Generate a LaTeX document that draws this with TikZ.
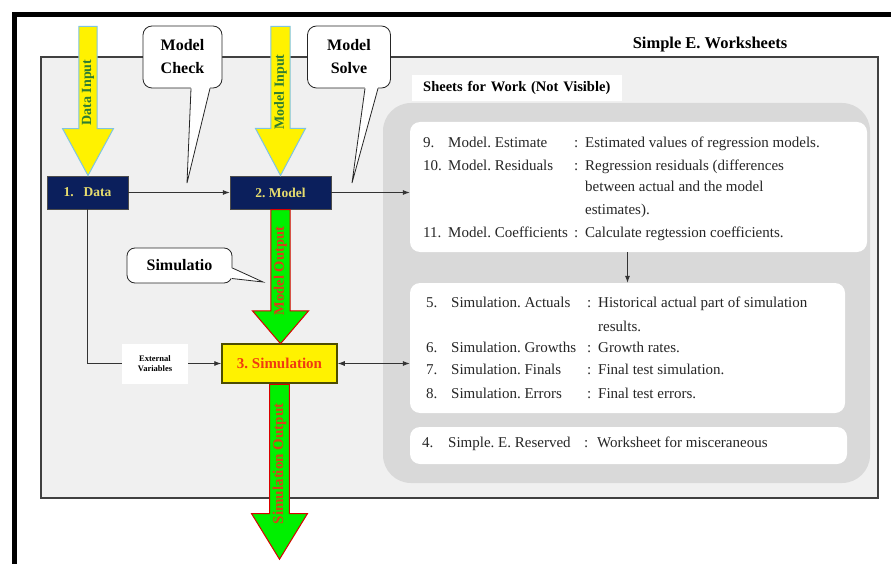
\documentclass[tikz,border=0pt]{standalone}
\usepackage{fontspec}
\setmainfont{Liberation Serif}
\usetikzlibrary{arrows.meta,shapes.arrows,calc}

\definecolor{navybox}{HTML}{0B1F5C}
\definecolor{stagetext}{HTML}{E6DC6E}
\definecolor{panelgray}{HTML}{F0F0F0}
\definecolor{sheetgray}{HTML}{D9D9D9}
\definecolor{arrowblue}{HTML}{7FC4E0}
\definecolor{inputgreen}{HTML}{2E7D32}
\definecolor{outgreen}{HTML}{00F000}
\definecolor{outred}{HTML}{D8401A}
\definecolor{simred}{HTML}{F03A10}
\definecolor{olivebox}{HTML}{4D4D00}

\tikzset{>={Latex[length=7pt,width=5pt]}}
\frenchspacing

\begin{document}
\begin{tikzpicture}[x=1pt,y=-1pt,
  stage/.style={draw=black!70,fill=navybox,text=stagetext,inner sep=0pt,minimum height=33pt,font=\bfseries\fontsize{13.5}{16}\selectfont},
  fatarrow/.style={single arrow,rotate=90,shape border rotate=180,anchor=tail,line width=1pt,inner sep=1pt,font=\bfseries\fontsize{14}{16}\selectfont},
  inarrow/.style={fatarrow,fill=yellow,draw=arrowblue,text=inputgreen},
  outarrow/.style={fatarrow,fill=outgreen,draw=red!85!black,text=outred},
  talk/.style={draw=black!85,fill=white,line width=0.8pt,rounded corners=9pt,align=center,inner sep=0pt,font=\bfseries\fontsize{16}{23}\selectfont},
  talkline/.style={draw=black!85,line width=0.8pt},
  sheetbox/.style={fill=white,rounded corners=10pt,inner sep=0pt},
  sheettext/.style={anchor=base west,inner sep=0pt,text=black!85,font=\fontsize{15}{17}\selectfont},
  flow/.style={->,draw=black!80,line width=0.8pt}]
  \useasboundingbox (0,0) rectangle (891,564);
  \fill[white] (0,0) rectangle (891,564);
  % frame and panels
  \draw[line width=5pt] (14,564) -- (14,14.5) -- (891,14.5);
  \draw[fill=panelgray,draw=black!75,line width=1.8pt] (41,57) rectangle (878,498);
  \node[font=\bfseries\fontsize{16.5}{20}\selectfont] (title) at (710,45) {Simple E. Worksheets};
  \fill[sheetgray,rounded corners=28pt] (383,103) rectangle (870,483);
  \node[fill=white,anchor=west,minimum height=26pt,text width=188pt,inner xsep=11pt,inner ysep=0pt,align=left,font=\bfseries\fontsize{14.5}{17}\selectfont] (worklabel) at (412,88) {Sheets for Work (Not Visible)};

  % worksheet boxes
  \node[sheetbox,minimum width=457pt,minimum height=130pt] (estbox) at (638.5,187) {};
  \node[sheetbox,minimum width=435pt,minimum height=130pt] (simbox) at (627.5,348) {};
  \node[sheetbox,minimum width=437pt,minimum height=37pt] (resbox) at (628.5,445.5) {};

  \foreach \yy/\nr/\lab/\desc [count=\k] in {147.5/9./Model. Estimate/Estimated values of regression models., 170.5/10./Model. Residuals/Regression residuals (differences, 237.5/11./Model. Coefficients/Calculate regtession coefficients.}{
    \node[sheettext] (e-n\k) at (423,\yy) {\nr};
    \node[sheettext] (e-l\k) at (448,\yy) {\lab};
    \node[sheettext] (e-c\k) at (574,\yy) {:};
    \node[sheettext] (e-d\k) at (585,\yy) {\desc};
  }
  \node[sheettext] (e-d4) at (585,191.5) {between actual and the model};
  \node[sheettext] (e-d5) at (585,214.5) {estimates).};

  \foreach \yy/\nr/\lab/\desc [count=\k] in {307.5/5./Simulation. Actuals/Historical actual part of simulation, 352.5/6./Simulation. Growths/Growth rates., 374.5/7./Simulation. Finals/Final test simulation., 398.5/8./Simulation. Errors/Final test errors.}{
    \node[sheettext] (s-n\k) at (426,\yy) {\nr};
    \node[sheettext] (s-l\k) at (451,\yy) {\lab};
    \node[sheettext] (s-c\k) at (587,\yy) {:};
    \node[sheettext] (s-d\k) at (598,\yy) {\desc};
  }
  \node[sheettext] (s-d5) at (598,331.5) {results.};

  \node[sheettext] (r-n1) at (422,447.5) {4.};
  \node[sheettext] (r-l1) at (448,447.5) {Simple. E. Reserved};
  \node[sheettext] (r-c1) at (584,447.5) {:};
  \node[sheettext] (r-d1) at (597,447.5) {Worksheet for misceraneous};

  % stages
  \node[stage,minimum width=81pt] (data) at (87.5,192.5) {1.\hspace{10pt}Data};
  \node[stage,minimum width=101pt] (model) at (280.5,192.5) {2. Model};
  \node[draw=olivebox,line width=1.5pt,fill=yellow,text=simred,minimum width=115pt,minimum height=39pt,inner sep=0pt,font=\bfseries\fontsize{15}{18}\selectfont] (sim) at (279.5,363.5) {3. Simulation};
  \node[fill=white,minimum width=66pt,minimum height=40pt,inner sep=0pt,align=center,font=\bfseries\fontsize{8.5}{10}\selectfont] (extvar) at (155,363.5) {External\\Variables};

  % fat arrows
  \node[inarrow,minimum height=149pt,minimum width=51pt,single arrow head extend=13.5pt,single arrow tip angle=57] (datain) at (88,26) {Data Input};
  \node[inarrow,minimum height=149pt,minimum width=50pt,single arrow head extend=12.5pt,single arrow tip angle=56] (modelin) at (280.5,26) {Model Input};
  \node[outarrow,minimum height=134pt,minimum width=56pt,single arrow head extend=15.5pt,single arrow tip angle=81,font=\bfseries\fontsize{14.5}{17}\selectfont] (modelout) at (model.south) {Model Output};
  \node[outarrow,minimum height=175pt,minimum width=56pt,single arrow head extend=15.5pt,single arrow tip angle=63,font=\bfseries\fontsize{15}{17}\selectfont] (simout) at (sim.south) {Simulation Output};

  % connectors
  \draw[flow] (data) -- (model);
  \draw[flow] (model.east) -- (model.east -| estbox.west);
  \draw[flow] (estbox.south -| simbox.north) -- (simbox.north);
  \draw[draw=black!80,line width=0.8pt] (data.south) |- (extvar.west);
  \draw[flow] (extvar.east) -- (sim.west);
  \draw[flow,<->] (sim.east) -- (sim.east -| simbox.west);

  % callouts
  \coordinate (checktip) at (187,183);
  \coordinate (solvetip) at (352,183);
  \coordinate (simtip) at (263,282);
  \node[talk,minimum width=79pt,minimum height=62pt] (check) at (182.5,57) {Model\\Check};
  \fill[white] ($(check.south)+(8.5,-1.5)$) -- (checktip) -- ($(check.south)+(27.5,-1.5)$) -- cycle;
  \draw[talkline] ($(check.south)+(8.5,0)$) -- (checktip) -- ($(check.south)+(27.5,0)$);
  \node[talk,minimum width=83pt,minimum height=62pt] (solve) at (349,57) {Model\\Solve};
  \fill[white] ($(solve.south)+(16,-1.5)$) -- (solvetip) -- ($(solve.south)+(29,-1.5)$) -- cycle;
  \draw[talkline] ($(solve.south)+(16,0)$) -- (solvetip) -- ($(solve.south)+(29,0)$);
  \node[talk,rounded corners=8pt,minimum width=105pt,minimum height=35pt] (simnote) at (179.5,265.5) {Simulatio};
  \fill[white] ($(simnote.east)+(-1.5,2.5)$) -- (simtip) -- ($(simnote.east)+(-1.5,13)$) -- cycle;
  \draw[talkline] ($(simnote.east)+(0,2.5)$) -- (simtip) -- ($(simnote.east)+(-0.6,13)$);
\end{tikzpicture}
\end{document}
